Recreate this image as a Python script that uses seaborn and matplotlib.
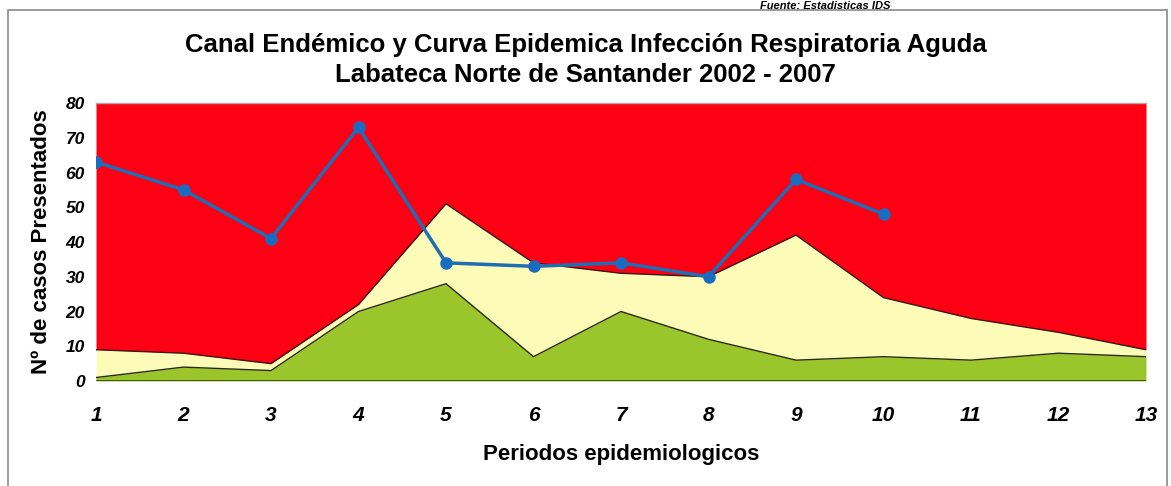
import numpy as np
import pandas as pd
import matplotlib.pyplot as plt
import seaborn as sns
from matplotlib.patches import Rectangle

# Datos del canal endémico
periodos = list(range(1, 14))
zona_exito = [1, 4, 3, 20, 28, 7, 20, 12, 6, 7, 6, 8, 7]
zona_seguridad = [9, 8, 5, 22, 51, 34, 31, 30, 42, 24, 18, 14, 9]
zona_epidemia = [80] * 13

# Curva epidemica (casos observados, periodos 1-10)
periodos_obs = list(range(1, 11))
casos = [63, 55, 41, 73, 34, 33, 34, 30, 58, 48]

df = pd.DataFrame({'Periodo': periodos_obs, 'Casos': casos})

sns.set_style("white")
plt.rcParams['font.family'] = ['Liberation Sans', 'DejaVu Sans']

fig = plt.figure(figsize=(11.71, 4.86), dpi=100)
ax = fig.add_axes([96 / 1171, 1 - 381 / 486, 1050 / 1171, 278 / 486])

ax.fill_between(periodos, zona_seguridad, zona_epidemia, color='#fe0014', lw=0)
ax.fill_between(periodos, zona_exito, zona_seguridad, color='#fdfbb8', lw=0)
ax.fill_between(periodos, 0, zona_exito, color='#9bc62b', lw=0)
ax.plot(periodos, zona_seguridad, color='#3a1a10', lw=1)
ax.plot(periodos, zona_exito, color='#2a2a10', lw=1)

sns.lineplot(data=df, x='Periodo', y='Casos', ax=ax, color='#1f6db3', lw=2.5,
             marker='o', markersize=9, markeredgewidth=0, markerfacecolor='#1a6cc0')

ax.set_xlim(1, 13)
ax.set_ylim(0, 80)
ax.set_xticks(periodos)
ax.set_yticks(range(0, 81, 10))
ax.tick_params(axis='x', length=0, pad=18, labelsize=15, labelcolor='black')
ax.tick_params(axis='y', length=0, pad=8, labelsize=12.5, labelcolor='black')
for lab in ax.get_xticklabels() + ax.get_yticklabels():
    lab.set_fontstyle('italic')
    lab.set_fontweight('bold')
for s in ['left', 'right', 'bottom']:
    ax.spines[s].set_visible(False)
ax.spines['top'].set_color('#aaaaaa')
ax.spines['top'].set_linewidth(1)
ax.axhline(0, color='#3a4a10', lw=2)

ax.set_xlabel('Periodos epidemiologicos', fontsize=16, fontweight='bold', labelpad=14,
              color='black')
ax.set_ylabel('Nº de casos Presentados', fontsize=16, fontweight='bold', labelpad=10,
              color='black')

fig.text(0.5, 1 - 45 / 486, 'Canal Endémico y Curva Epidemica Infección Respiratoria Aguda',
         ha='center', va='center', fontsize=18.5, fontweight='bold', color='black')
fig.text(0.5, 1 - 75 / 486, 'Labateca Norte de Santander 2002 - 2007',
         ha='center', va='center', fontsize=18.5, fontweight='bold', color='black')
fig.text(760 / 1171, 1 - 1 / 486, 'Fuente: Estadisticas IDS', ha='left', va='top',
         fontsize=8, fontweight='bold', fontstyle='italic', color='black')

fig.patches.append(Rectangle((8 / 1171, -0.1), 1159 / 1171, 1.1 - 10 / 486,
                             transform=fig.transFigure, fill=False,
                             edgecolor='#8a8a8a', lw=1.2))

fig.savefig('out.png', dpi=100)
